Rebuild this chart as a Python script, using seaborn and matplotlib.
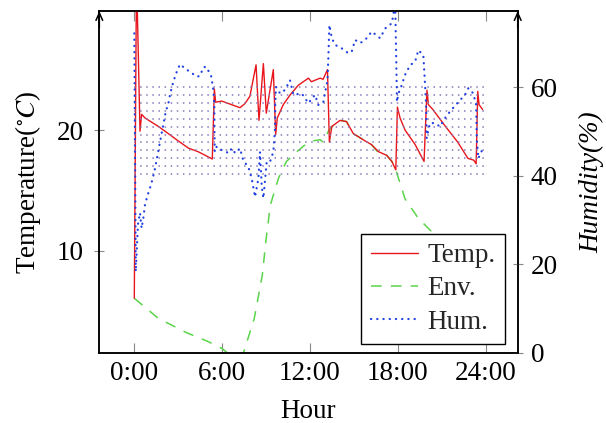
import numpy as np
import pandas as pd
import matplotlib
matplotlib.use("Agg")
import matplotlib.pyplot as plt
import seaborn as sns
from matplotlib.lines import Line2D

# ---------------- data ----------------
temp_hours = [0.0, 0.15, 0.39, 0.5, 0.73, 1.64, 2.33, 3.0, 3.7, 4.37, 5.33, 5.47, 5.56, 5.97,
              6.88, 7.22, 7.57, 7.9, 8.32, 8.52, 8.82, 9.02, 9.5, 9.66, 9.77, 10.18, 10.64,
              11.2, 11.9, 12.1, 12.7, 12.9, 13.2, 13.33, 13.5, 14.06, 14.5, 14.97, 15.77,
              16.2, 16.7, 17.25, 17.6, 17.87, 17.98, 18.16, 18.5, 19.19, 19.8, 20.0, 20.1,
              20.4, 21.2, 22.1, 22.8, 23.2, 23.36, 23.47, 23.56, 23.8]
temp_values = [6.06, 33.0, 19.9, 21.3, 21.0, 20.3, 19.7, 19.1, 18.5, 18.2, 17.6, 23.4, 22.3, 22.4,
               22.0, 21.85, 22.2, 22.8, 25.4, 20.8, 25.5, 21.4, 25.0, 19.6, 21.0, 22.1, 22.9,
               23.7, 24.3, 24.0, 24.3, 24.2, 25.0, 19.0, 20.3, 20.8, 20.7, 19.7, 19.1,
               18.8, 18.2, 17.9, 17.4, 16.7, 21.9, 21.0, 20.0, 18.8, 17.4, 23.3, 22.1,
               21.7, 20.4, 19.0, 17.65, 17.5, 17.2, 23.2, 22.1, 21.7]

env_hours = [0.0, 1.64, 3.6, 5.0, 6.0, 6.5, 7.3, 7.45, 8.2, 8.75, 9.0, 9.3, 9.85, 10.4, 11.1,
             11.8, 12.2, 12.7, 12.9, 13.26, 13.6, 14.06, 14.5, 14.97, 15.77, 16.2, 16.7,
             17.25, 17.6, 17.87, 18.5, 19.4, 20.55, 22.0, 24.0]
env_values = [6.06, 4.4, 3.2, 2.5, 1.9, 1.4, 1.4, 1.5, 4.4, 8.0, 10.9, 13.8, 16.0, 17.4, 18.2,
              18.9, 19.1, 19.2, 19.0, 19.9, 20.4, 20.8, 20.7, 19.7, 19.1, 18.8, 18.1,
              17.9, 17.4, 16.7, 14.3, 12.7, 11.3, 9.5, 7.5]

hum_hours = [0.0, 0.1, 0.25, 0.39, 0.5, 0.62, 0.73, 0.9, 1.14, 1.37, 1.53, 1.76, 1.98, 2.15,
             2.33, 2.44, 2.67, 2.9, 3.12, 3.46, 3.92, 4.33, 4.56, 4.65, 4.88, 5.24, 5.4,
             5.47, 5.48, 5.5, 5.63, 5.97, 6.47, 6.65, 6.9, 7.22, 7.45, 7.79, 8.02, 8.25,
             8.48, 8.59, 8.71, 8.82, 9.05, 9.28, 9.5, 9.62, 9.63, 9.68, 9.96, 10.3, 10.64,
             10.87, 11.44, 11.9, 12.35, 12.58, 12.92, 13.2, 13.26, 13.33, 13.5, 13.72,
             14.18, 14.63, 14.86, 15.09, 15.43, 15.77, 16.23, 16.8, 17.14, 17.6, 17.83,
             17.95, 18.05, 18.28, 18.5, 18.85, 19.19, 19.41, 19.75, 19.87, 19.94, 19.98,
             20.2, 20.55, 20.89, 21.23, 21.57, 22.15, 22.6, 22.83, 23.17, 23.36, 23.4,
             23.51, 23.7, 23.8]
hum_values = [72.2, 18.3, 29.0, 31.6, 28.1, 30.5, 33.4, 35.5, 37.9, 40.9, 43.6, 47.7, 51.5, 54.5,
              56.4, 58.3, 61.3, 63.5, 65.2, 64.3, 63.2, 62.4, 62.8, 64.3, 64.7, 62.8, 59.4,
              56.0, 50.0, 45.4, 46.6, 45.8, 45.1, 46.2, 45.1, 46.2, 43.4, 42.0, 39.4, 35.2,
              39.4, 45.4, 37.5, 34.9, 43.2, 43.2, 45.4, 50.7, 56.0, 60.1, 58.6, 59.4, 61.6,
              58.3, 58.6, 56.4, 58.3, 56.0, 56.7, 61.6, 66.6, 74.1, 71.1, 69.6,
              68.8, 67.7, 68.1, 70.7, 70.0, 70.7, 72.6, 71.1, 73.3, 74.5, 79.0,
              56.7, 58.6, 60.5, 62.8, 65.0, 65.8, 68.4, 67.3, 60.5, 56.0, 48.5,
              51.9, 51.9, 51.1, 53.0, 54.5, 56.7, 58.3, 59.8, 58.6, 56.0, 48.5,
              43.9, 45.4, 45.8]

comfort_hum_low, comfort_hum_high = 40, 60
band_hours = (0, 24)

x_ticks = [0, 6, 12, 18, 24]
x_tick_labels = ["0:00", "6:00", "12:00", "18:00", "24:00"]
temp_ticks = [10, 20]
hum_ticks = [0, 20, 40, 60]

# ---------------- style ----------------
sns.set_theme(style="white")
plt.rcParams["font.family"] = ["Liberation Serif", "DejaVu Serif"]
plt.rcParams["mathtext.fontset"] = "stix"
FS = 19.5

temp_df = pd.DataFrame({"hour": temp_hours, "temp": temp_values})
env_df = pd.DataFrame({"hour": env_hours, "env": env_values})
hum_df = pd.DataFrame({"hour": hum_hours, "hum": hum_values})

fig = plt.figure(figsize=(6.06, 4.23), dpi=100)
ax = fig.add_axes([0.1639, 0.1655, 0.6904, 0.8085])
ax2 = ax.twinx()

# dotted comfort band (pattern)
rows = np.linspace(comfort_hum_high, comfort_hum_low + 0.4, 12)
ax2.hlines(rows, band_hours[0], band_hours[1], colors="#8878b8", linewidth=1.1,
           linestyles=[(0, (1.0, 3.0))], zorder=0.5)

red = "#e8161c"
green = "#5ad44a"
blue = "#2040e0"

HUM_LS = (0, (0.1, 2.7))
ENV_LS = (0, (7.0, 6.0))

sns.lineplot(data=temp_df, x="hour", y="temp", ax=ax, color=red, lw=1.0,
             sort=False, estimator=None, zorder=3)
sns.lineplot(data=env_df, x="hour", y="env", ax=ax, color=green, lw=1.1,
             linestyle=ENV_LS, sort=False, estimator=None, zorder=2)
sns.lineplot(data=hum_df, x="hour", y="hum", ax=ax2, color=blue, lw=1.6,
             linestyle=HUM_LS, dash_capstyle="round", sort=False,
             estimator=None, zorder=2)

ax.set_xlim(-2.39, 26.2)
ax.set_ylim(1.53, 29.86)
ax2.set_ylim(-0.11, 77.26)

ax.set_xticks(x_ticks)
ax.set_xticklabels(x_tick_labels, fontsize=FS)
ax.set_yticks(temp_ticks)
ax.set_yticklabels([str(t) for t in temp_ticks], fontsize=FS)
ax2.set_yticks(hum_ticks)
ax2.set_yticklabels([str(t) for t in hum_ticks], fontsize=FS)

tick_col = "#888888"
ax.tick_params(axis="x", direction="in", length=7, width=0.8, color=tick_col,
               top=True, bottom=True, pad=6, labelcolor="black")
ax.tick_params(axis="y", direction="inout", length=7, width=0.8, color=tick_col,
               left=True, pad=7.5, labelcolor="black")
ax2.tick_params(axis="y", direction="inout", length=7, width=0.8, color=tick_col,
                right=True, pad=6, labelcolor="black")

for a in (ax, ax2):
    for s in a.spines.values():
        s.set_visible(True)
        s.set_color("black")
        s.set_linewidth(1.1)

ax.set_xlabel("Hour", fontsize=FS, labelpad=9, color="black")
ax.set_ylabel(r"Temperature($^{\circ}C$)", fontsize=FS, labelpad=10, color="black")
ax2.set_ylabel("Humidity(%)", fontsize=FS, fontstyle="italic", labelpad=15, color="black")

# arrows at top of the y axes
for xf in (0, 1):
    ax2.annotate("", xy=(xf, 1.0), xytext=(xf, 0.95), xycoords="axes fraction",
                 arrowprops=dict(arrowstyle="->,head_length=0.45,head_width=0.2",
                                 lw=1.1, color="black", shrinkA=0, shrinkB=0),
                 annotation_clip=False)

handles = [Line2D([], [], color=red, lw=1.0),
           Line2D([], [], color=green, lw=1.1, linestyle=ENV_LS),
           Line2D([], [], color=blue, lw=1.6, linestyle=HUM_LS, dash_capstyle="round")]
leg = ax2.legend(handles, ["Temp.", "Env.", "Hum."], loc="lower right",
                 bbox_to_anchor=(0.970, 0.026), bbox_transform=ax2.transAxes,
                 borderaxespad=0, frameon=True, fancybox=False, framealpha=1,
                 edgecolor="black", fontsize=FS, handlelength=1.75,
                 handletextpad=0.35, labelspacing=0.3, borderpad=0.35)
leg.get_frame().set_linewidth(1.0)
leg.set_zorder(10)

fig.savefig("out.png", dpi=100)
